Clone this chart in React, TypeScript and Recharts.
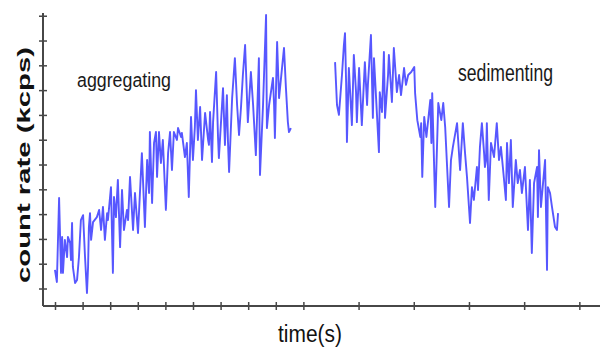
import { Line, LineChart, XAxis, YAxis } from 'recharts';

// time in s, count rate in kcps
const aggTime = [
  9.8, 10.5, 11.3, 12.0, 12.4, 12.7, 13.4, 14.2, 14.5, 15.3, 15.6, 16.0, 16.3, 17.1, 17.8, 18.5,
  19.2, 20.0, 20.7, 21.4, 21.8, 22.1, 22.5, 22.9, 23.6, 25.0, 25.8, 26.5, 27.2, 27.9, 28.7, 29.0,
  30.1, 30.8, 31.2, 31.9, 32.6, 33.4, 34.1, 34.8, 35.9, 36.3, 37.0, 38.1, 38.8, 39.9, 41.0, 41.3,
  42.4, 43.2, 43.9, 44.2, 45.0, 45.7, 46.4, 46.8, 47.5, 48.2, 48.9, 50.0, 50.8, 51.5, 52.2, 52.9,
  54.0, 54.4, 55.5, 55.8, 56.9, 57.6, 58.3, 59.1, 59.8, 60.5, 60.9, 61.6, 62.4, 63.1, 64.2, 65.3,
  65.6, 66.0, 66.7, 67.1, 68.2, 68.9, 69.2, 70.7, 71.4, 72.1, 72.5, 72.9, 74.0, 75.0, 75.8, 76.5,
  77.2, 77.9, 78.7, 79.7, 80.8, 81.6, 82.6, 83.7, 84.1, 85.2, 86.3, 86.6, 87.4, 88.8, 89.2, 89.5,
  90.3, 91.0, 92.8, 93.5, 94.2, 94.6, 95.3,
];
const aggRate = [
  17.7, 12.8, 46.7, 16.5, 31.0, 16.5, 29.8, 22.9, 31.0, 28.5, 21.7, 36.6, 18.9, 12.4, 13.6, 22.9,
  37.8, 39.8, 22.9, 8.4, 18.9, 35.0, 40.6, 29.8, 37.0, 39.0, 41.9, 33.8, 43.1, 29.8, 40.6, 37.8,
  51.1, 16.5, 47.1, 39.0, 54.0, 26.9, 49.9, 33.8, 41.9, 37.8, 55.2, 33.8, 48.7, 32.6, 58.0, 64.8,
  35.0, 62.0, 48.7, 73.3, 44.7, 68.9, 73.3, 55.2, 73.3, 60.8, 70.1, 41.9, 64.8, 73.3, 58.0, 73.3,
  70.1, 74.9, 71.3, 72.9, 63.2, 68.9, 47.1, 79.4, 62.0, 75.3, 90.2, 70.1, 83.4, 62.0, 81.0, 70.1,
  68.1, 81.4, 61.2, 77.3, 97.5, 70.9, 62.8, 91.0, 68.1, 88.2, 69.3, 57.2, 87.0, 103.1, 84.2, 72.1,
  83.0, 96.3, 108.4, 77.3, 97.5, 84.2, 64.0, 103.1, 56.0, 84.2, 120.5, 74.9, 84.2, 95.1, 84.2, 70.9,
  109.6, 87.0, 107.2, 91.0, 77.3, 73.3, 74.9,
];
const sedTime = [
  111.3, 112.0, 112.7, 113.8, 114.5, 114.9, 115.3, 115.6, 116.3, 117.4, 118.1, 118.9, 119.2, 120.0,
  121.0, 122.1, 122.9, 123.2, 124.3, 125.0, 125.4, 127.2, 127.5, 128.3, 129.0, 129.4, 130.5, 130.8,
  131.9, 132.6, 133.7, 134.5, 135.2, 136.3, 137.0, 137.8, 138.9, 140.0, 140.3, 141.1, 142.2, 142.5,
  142.9, 143.6, 144.4, 145.8, 146.2, 146.5, 147.3, 147.6, 148.7, 149.8, 150.5, 151.2, 152.6, 153.3,
  154.0, 155.5, 156.6, 157.6, 158.4, 159.1, 160.2, 160.9, 161.6, 162.7, 163.1, 163.8, 164.5, 165.3,
  165.6, 166.0, 166.3, 167.0, 167.8, 168.9, 169.9, 170.7, 171.4, 172.1, 173.2, 173.6, 174.3, 175.0,
  175.7, 176.8, 177.5, 178.3, 179.0, 180.1, 181.2, 181.9, 182.6, 183.4, 184.5, 184.8, 185.2, 185.9,
  187.4, 188.1, 188.4, 189.2, 189.9, 191.0, 191.7, 192.1,
];
const sedRate = [
  101.5, 84.2, 80.2, 96.3, 108.4, 113.2, 93.5, 69.3, 99.1, 76.1, 104.4, 89.4, 77.3, 99.1,
  76.1, 101.5, 84.2, 92.3, 112.4, 79.0, 103.1, 65.2, 89.4, 81.4, 105.6, 79.0, 96.3, 104.4,
  85.4, 107.2, 89.4, 96.3, 88.2, 99.1, 92.3, 96.3, 97.5, 99.5, 89.0, 78.1, 71.3, 76.9,
  55.2, 79.4, 71.3, 86.2, 68.9, 89.0, 55.2, 43.1, 85.0, 78.1, 85.0, 75.3, 43.1, 62.0,
  67.3, 76.9, 58.0, 76.9, 64.8, 55.2, 36.6, 51.1, 45.9, 59.2, 49.9, 67.3, 76.9, 64.8,
  59.2, 62.0, 76.9, 45.9, 68.9, 63.2, 76.9, 62.0, 67.3, 59.2, 45.9, 68.9, 52.7, 70.1,
  43.1, 62.0, 52.7, 58.0, 48.7, 59.2, 33.8, 54.0, 24.5, 52.7, 59.2, 39.0, 66.0, 43.1,
  62.0, 17.7, 51.1, 48.7, 43.1, 35.0, 33.8, 40.6,
];
const timeTicks = [10, 20, 30, 40, 50, 60, 70, 80, 90, 100, 110, 120, 130, 140, 150, 160, 170, 180, 190, 200];
const rateTicks = [10, 20, 30, 40, 50, 60, 70, 80, 90, 100, 110, 120];

const aggregating = aggTime.map((t, i) => ({ t, rate: aggRate[i] }));
const sedimenting = sedTime.map((t, i) => ({ t, rate: sedRate[i] }));

const axisColor = '#474747';
const traceColor = '#3a3aff';
const font = '"Liberation Sans", Arial, sans-serif';

function XTick({ x, y }: any) {
  return <line x1={x} x2={x} y1={y - 4} y2={y + 4} stroke={axisColor} strokeWidth={1.5} />;
}

function YTick({ x, y }: any) {
  return <line x1={x - 4} x2={x + 4} y1={y} y2={y} stroke={axisColor} strokeWidth={1.5} />;
}

export default function App() {
  return (
    <div style={{ position: 'absolute', left: 0, top: 0, width: 600, height: 347, background: '#fff' }}>
      <LineChart width={600} height={347} margin={{ top: 13, right: 0, bottom: 0, left: 0 }}>
        <XAxis
          dataKey="t"
          type="number"
          domain={[5.47, 207.3]}
          ticks={timeTicks}
          height={41}
          tickLine={false}
          tickSize={0}
          tickMargin={0}
          tick={XTick}
          axisLine={{ stroke: axisColor, strokeWidth: 2 }}
        />
        <YAxis
          type="number"
          domain={[3.15, 121.3]}
          ticks={rateTicks}
          width={43}
          tickLine={false}
          tickSize={0}
          tickMargin={0}
          tick={YTick}
          axisLine={{ stroke: axisColor, strokeWidth: 2 }}
        />
        <Line
          data={aggregating}
          dataKey="rate"
          type="linear"
          stroke={traceColor}
          strokeWidth={1.9}
          strokeOpacity={0.85}
          strokeLinejoin="round"
          dot={false}
          isAnimationActive={false}
        />
        <Line
          data={sedimenting}
          dataKey="rate"
          type="linear"
          stroke={traceColor}
          strokeWidth={1.9}
          strokeOpacity={0.85}
          strokeLinejoin="round"
          dot={false}
          isAnimationActive={false}
        />
      </LineChart>
      <svg
        width={600}
        height={347}
        style={{ position: 'absolute', left: 0, top: 0, pointerEvents: 'none' }}
        fontFamily={font}
      >
        <text x={77} y={86.5} fontSize={20} textLength={94} lengthAdjust="spacingAndGlyphs" fill="#1a1a1a">
          aggregating
        </text>
        <text x={458} y={81} fontSize={23} textLength={95} lengthAdjust="spacingAndGlyphs" fill="#1a1a1a">
          sedimenting
        </text>
        <text x={278} y={342} fontSize={23} textLength={64} lengthAdjust="spacingAndGlyphs" fill="#111">
          time(s)
        </text>
        <text
          transform="translate(30,165) rotate(-90)"
          textAnchor="middle"
          fontSize={18}
          fontWeight="bold"
          textLength={236}
          lengthAdjust="spacingAndGlyphs"
          fill="#111"
        >
          count rate (kcps)
        </text>
      </svg>
    </div>
  );
}
